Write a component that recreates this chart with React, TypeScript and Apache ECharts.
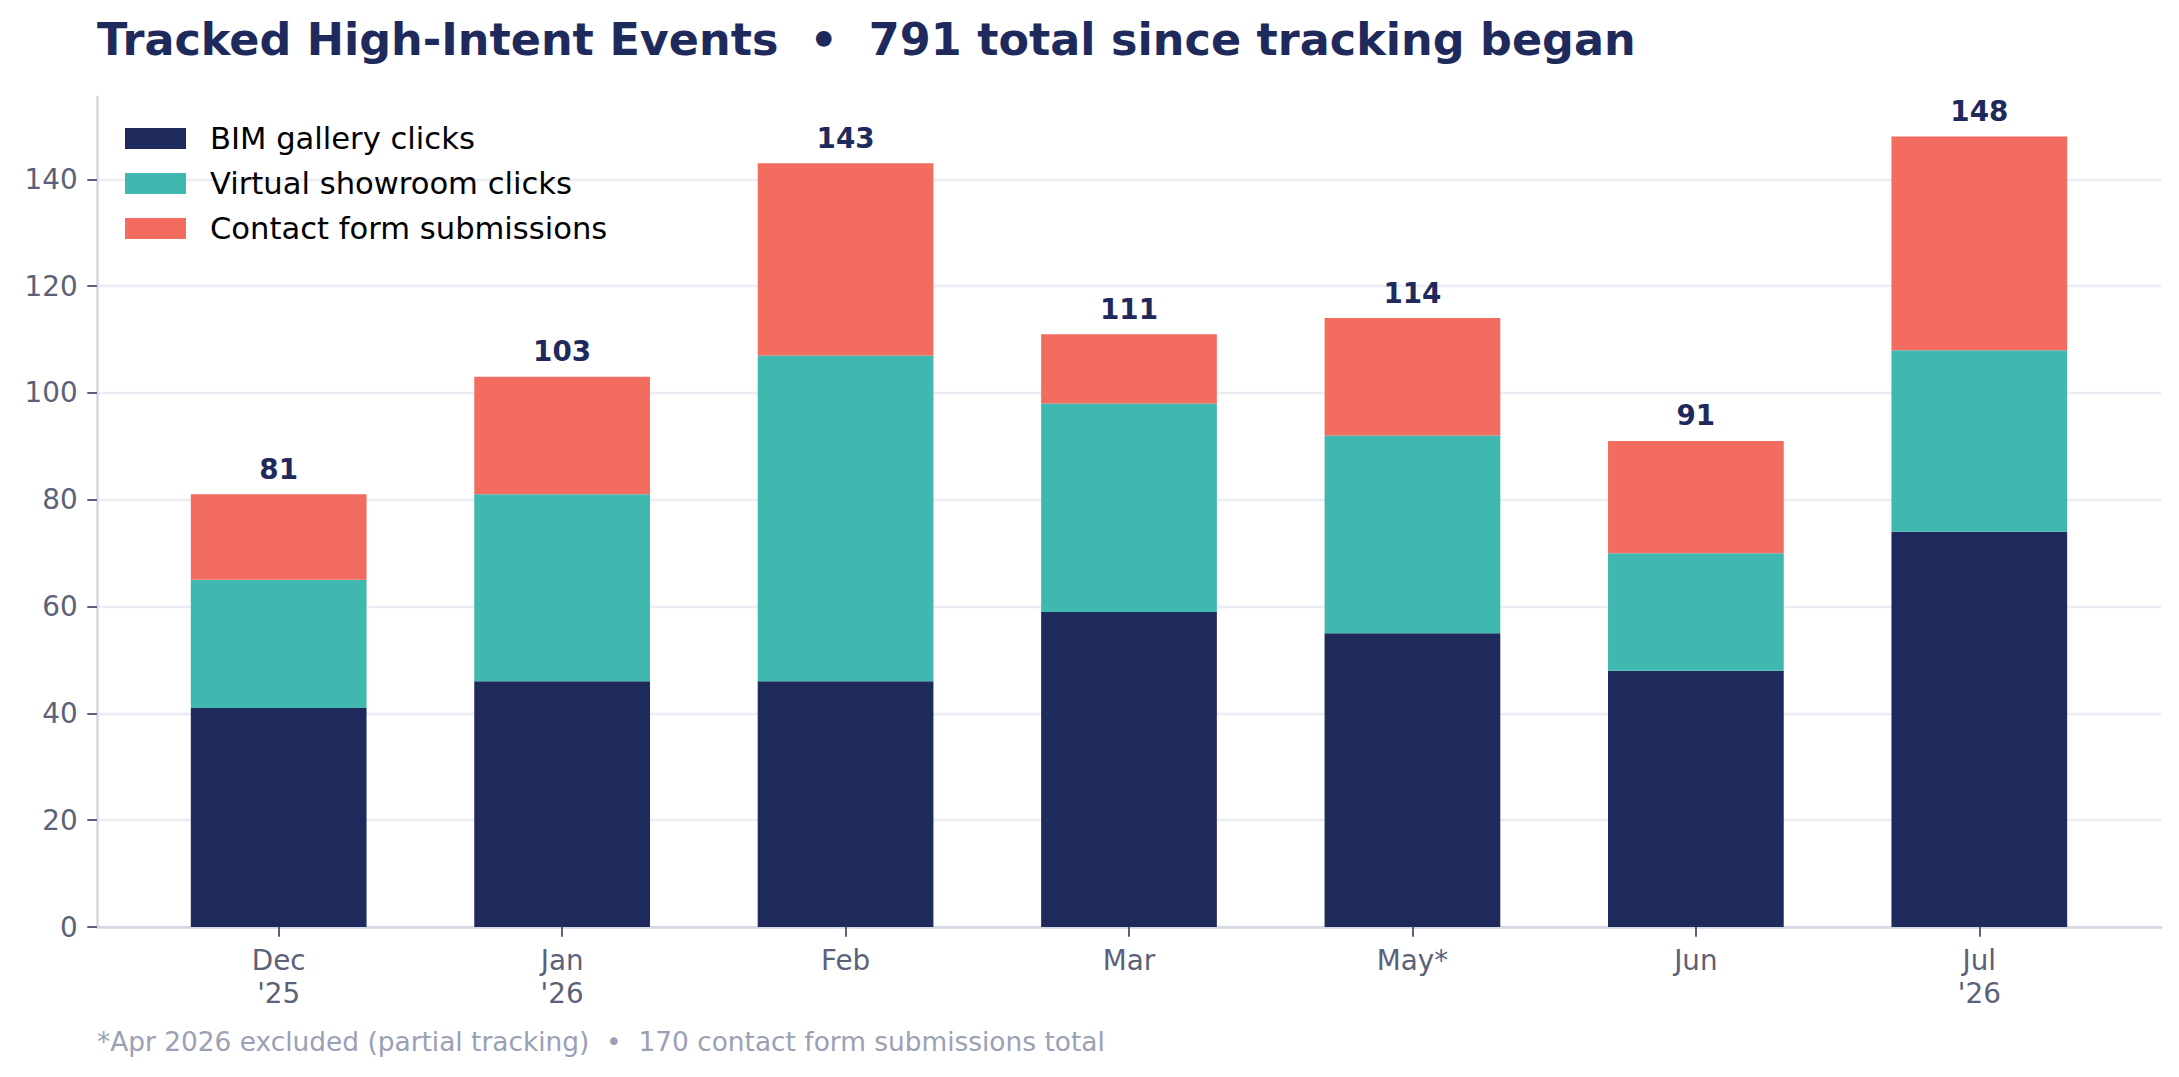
import React, { useEffect, useRef } from "react";
import * as echarts from "echarts";

const categories = ["Dec\n'25", "Jan\n'26", "Feb", "Mar", "May*", "Jun", "Jul\n'26"];
const bimClicks = [41, 46, 46, 59, 55, 48, 74];
const showroomClicks = [24, 35, 61, 39, 37, 22, 34];
const contactSubmissions = [16, 22, 36, 13, 22, 21, 40];
const yTicks = [0, 20, 40, 60, 80, 100, 120, 140];
const seriesNames = ["BIM gallery clicks", "Virtual showroom clicks", "Contact form submissions"];

const titleText = "Tracked High-Intent Events  \u2022  791 total since tracking began";
const footnoteText = "*Apr 2026 excluded (partial tracking)  \u2022  170 contact form submissions total";

const NAVY = "#1f2a5c";
const TEAL = "#40b8b0";
const CORAL = "#f26d60";
const TICK_COLOR = "#5b6178";
const AXIS_COLOR = "#d3d6e3";
const FONT = "DejaVu Sans";

const W = 2179;
const H = 1077;
const GRID_LEFT = 97;
const GRID_RIGHT = 18;
const GRID_TOP = 97;
const GRID_BOTTOM = 150;

export default function App() {
  const ref = useRef<HTMLDivElement>(null);

  useEffect(() => {
    if (!ref.current) return;
    const chart = echarts.init(ref.current, undefined, { renderer: "svg" });
    const n = categories.length;
    const barW = 0.62;
    const pad = 0.05 * (n - 1 + barW) + barW / 2;
    const totals = categories.map((_, i) => bimClicks[i] + showroomClicks[i] + contactSubmissions[i]);
    const yMax = Math.max(...totals) * 1.05;

    // category bands must line up with a matplotlib-like x range [-pad, n-1+pad]
    const plotW = W - GRID_LEFT - GRID_RIGHT;
    const unit = plotW / (n - 1 + 2 * pad);
    const inset = (pad - 0.5) * unit;

    const barSeries = (name: string, arr: number[], color: string, withLabel: boolean) => ({
      type: "bar",
      name,
      stack: "total",
      xAxisIndex: 1,
      yAxisIndex: 1,
      data: arr,
      barWidth: `${barW * 100}%`,
      itemStyle: { color },
      emphasis: { disabled: true },
      label: withLabel
        ? {
            show: true,
            position: "top",
            distance: 11,
            formatter: (p: any) => String(totals[p.dataIndex]),
            fontFamily: FONT,
            fontWeight: "bold",
            fontSize: 27.8,
            lineHeight: 28,
            color: NAVY,
          }
        : { show: false },
    });

    chart.setOption({
      animation: false,
      backgroundColor: "#ffffff",
      textStyle: { fontFamily: FONT },
      title: {
        text: titleText,
        left: 97,
        top: 17,
        padding: 0,
        textStyle: {
          fontFamily: FONT,
          fontWeight: "bold",
          fontSize: 44.5,
          lineHeight: 44,
          color: NAVY,
        },
      },
      graphic: [
        {
          type: "text",
          left: 97,
          top: 1028,
          style: {
            text: footnoteText,
            fontFamily: FONT,
            fontSize: 26.4,
            fill: "#9aa0b6",
          },
        },
      ],
      legend: {
        orient: "vertical",
        left: 125,
        top: 123,
        padding: 0,
        itemWidth: 61,
        itemHeight: 21,
        itemGap: 14,
        icon: "rect",
        selectedMode: false,
        data: seriesNames,
        textStyle: {
          fontFamily: FONT,
          fontSize: 30.6,
          lineHeight: 30.6,
          color: "#000000",
          padding: [0, 0, 0, 19],
        },
      },
      grid: [
        { left: GRID_LEFT, right: GRID_RIGHT, top: GRID_TOP, bottom: GRID_BOTTOM, containLabel: false },
        {
          left: GRID_LEFT + inset,
          right: GRID_RIGHT + inset,
          top: GRID_TOP,
          bottom: GRID_BOTTOM,
          containLabel: false,
        },
      ],
      xAxis: [
        {
          gridIndex: 0,
          type: "value",
          min: 0,
          max: 1,
          axisLine: { show: true, onZero: false, lineStyle: { color: AXIS_COLOR, width: 2.5 } },
          axisTick: { show: false },
          axisLabel: { show: false },
          splitLine: { show: false },
        },
        {
          gridIndex: 1,
          type: "category",
          data: categories,
          boundaryGap: true,
          axisLine: { show: false },
          axisTick: { show: true, alignWithLabel: true, length: 9.7, lineStyle: { color: TICK_COLOR, width: 2 } },
          axisLabel: {
            interval: 0,
            margin: 17,
            fontFamily: FONT,
            fontSize: 27.8,
            lineHeight: 33,
            color: TICK_COLOR,
            verticalAlign: "top",
          },
          splitLine: { show: false },
        },
      ],
      yAxis: [
        {
          gridIndex: 0,
          type: "value",
          min: 0,
          max: yMax,
          axisLine: { show: true, onZero: false, lineStyle: { color: AXIS_COLOR, width: 2.5 } },
          axisTick: { show: true, customValues: yTicks, length: 9.7, lineStyle: { color: TICK_COLOR, width: 2 } },
          axisLabel: {
            customValues: yTicks,
            margin: 19.4,
            fontFamily: FONT,
            fontSize: 27.8,
            color: TICK_COLOR,
          },
          splitLine: { show: true, lineStyle: { color: "#ececf4", width: 2.4 } },
        },
        {
          gridIndex: 1,
          type: "value",
          min: 0,
          max: yMax,
          show: false,
          splitLine: { show: false },
        },
      ],
      series: [
        barSeries(seriesNames[0], bimClicks, NAVY, false),
        barSeries(seriesNames[1], showroomClicks, TEAL, false),
        barSeries(seriesNames[2], contactSubmissions, CORAL, true),
      ],
    });

    return () => chart.dispose();
  }, []);

  return (
    <div
      ref={ref}
      style={{ position: "fixed", left: 0, top: 0, width: W, height: H, background: "#fff" }}
    />
  );
}
